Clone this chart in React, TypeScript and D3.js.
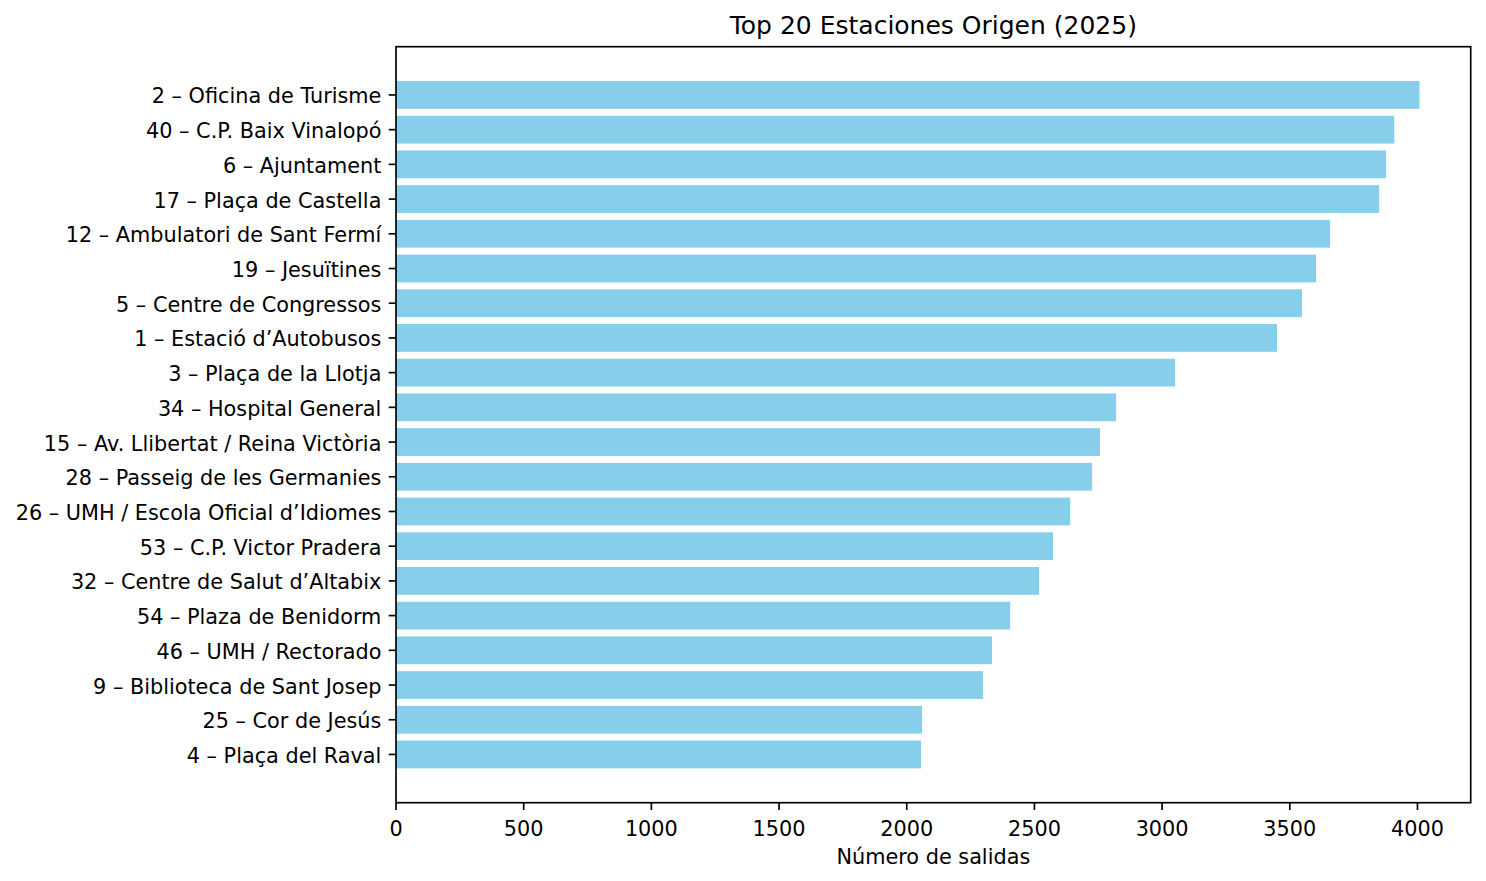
import React from "react";
import * as d3 from "d3";

const stations: string[] = [
  "2 – Oficina de Turisme",
  "40 – C.P. Baix Vinalopó",
  "6 – Ajuntament",
  "17 – Plaça de Castella",
  "12 – Ambulatori de Sant Fermí",
  "19 – Jesuïtines",
  "5 – Centre de Congressos",
  "1 – Estació d’Autobusos",
  "3 – Plaça de la Llotja",
  "34 – Hospital General",
  "15 – Av. Llibertat / Reina Victòria",
  "28 – Passeig de les Germanies",
  "26 – UMH / Escola Oficial d’Idiomes",
  "53 – C.P. Victor Pradera",
  "32 – Centre de Salut d’Altabix",
  "54 – Plaza de Benidorm",
  "46 – UMH / Rectorado",
  "9 – Biblioteca de Sant Josep",
  "25 – Cor de Jesús",
  "4 – Plaça del Raval",
];

const departures: number[] = [
  4008, 3909, 3877, 3850, 3658, 3603, 3548, 3450, 3051, 2820,
  2757, 2726, 2640, 2573, 2518, 2405, 2334, 2299, 2060, 2056,
];

const xTicks: number[] = [0, 500, 1000, 1500, 2000, 2500, 3000, 3500, 4000];

const title = "Top 20 Estaciones Origen (2025)";
const xLabel = "Número de salidas";

const W = 1486;
const H = 881;
const M = { left: 396, right: 1470.7, top: 46.7, bottom: 802.7 };
const FONT = "DejaVu Sans, sans-serif";
const TICK = 7.3;
const PAD = 7.3;

export default function App() {
  const n = stations.length;
  const barH = 0.8;
  const lo = -barH / 2;
  const hi = n - 1 + barH / 2;
  const yMargin = (hi - lo) * 0.05;
  const y = d3.scaleLinear().domain([lo - yMargin, hi + yMargin]).range([M.top, M.bottom]);
  const maxV = d3.max(departures) as number;
  const x = d3.scaleLinear().domain([0, maxV * 1.05]).range([M.left, M.right]);

  return (
    <svg
      width={W}
      height={H}
      style={{ position: "absolute", left: 0, top: 0, background: "#fff" }}
      fontFamily={FONT}
    >
      <rect x={0} y={0} width={W} height={H} fill="#fff" />
      {departures.map((v, i) => (
        <rect
          key={i}
          x={x(0)}
          y={y(i - barH / 2)}
          width={x(v) - x(0)}
          height={y(i + barH / 2) - y(i - barH / 2)}
          fill="#87CEEB"
        />
      ))}
      <rect
        x={M.left}
        y={M.top}
        width={M.right - M.left}
        height={M.bottom - M.top}
        fill="none"
        stroke="#000"
        strokeWidth={1.67}
      />
      {stations.map((s, i) => (
        <g key={s}>
          <line x1={M.left - TICK} x2={M.left} y1={y(i)} y2={y(i)} stroke="#000" strokeWidth={1.67} />
          <text
            x={M.left - TICK - PAD}
            y={y(i) + 1.5}
            textAnchor="end"
            dominantBaseline="central"
            fontSize={20.8}
            fill="#000"
          >
            {s}
          </text>
        </g>
      ))}
      {xTicks.map((t) => (
        <g key={t}>
          <line x1={x(t)} x2={x(t)} y1={M.bottom} y2={M.bottom + TICK} stroke="#000" strokeWidth={1.67} />
          <text
            x={x(t)}
            y={M.bottom + TICK + PAD + 18.5}
            textAnchor="middle"
            fontSize={20.8}
            fill="#000"
          >
            {t}
          </text>
        </g>
      ))}
      <text
        x={(M.left + M.right) / 2}
        y={M.bottom + TICK + PAD + 24 + 7 + 16}
        textAnchor="middle"
        fontSize={20.8}
        fill="#000"
      >
        {xLabel}
      </text>
      <text
        x={(M.left + M.right) / 2}
        y={M.top - 12.5}
        textAnchor="middle"
        fontSize={25}
        fill="#000"
      >
        {title}
      </text>
    </svg>
  );
}
